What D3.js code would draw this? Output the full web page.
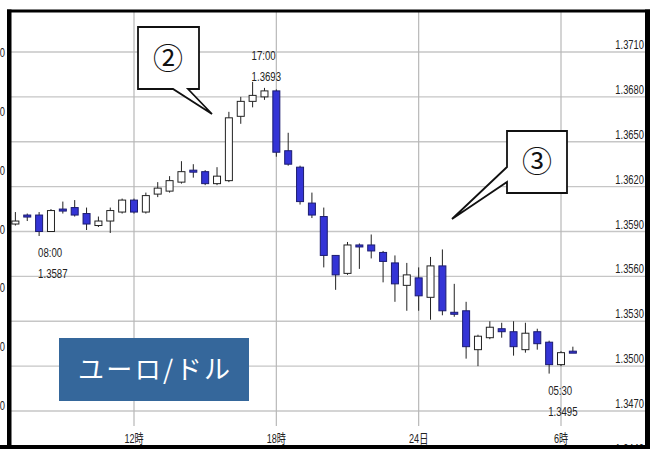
<!DOCTYPE html>
<html>
<head>
<meta charset="utf-8">
<script src="https://cdn.jsdelivr.net/npm/d3@7"></script>
<style>
body { margin: 0; background: #fff; }
svg { display: block; }
</style>
</head>
<body>
<svg id="chart" width="654" height="449"></svg>
<script>
// EUR/USD 30 minute candles, 23rd 07:00 -> 24th 06:30
var times  = ["07:00","07:30","08:00","08:30","09:00","09:30","10:00","10:30","11:00","11:30",
              "12:00","12:30","13:00","13:30","14:00","14:30","15:00","15:30","16:00","16:30",
              "17:00","17:30","18:00","18:30","19:00","19:30","20:00","20:30","21:00","21:30",
              "22:00","22:30","23:00","23:30","00:00","00:30","01:00","01:30","02:00","02:30",
              "03:00","03:30","04:00","04:30","05:00","05:30","06:00","06:30"];
var opens  = [1.3595,1.3601,1.3601,1.3590,1.3605,1.3606,1.3602,1.3594,1.3597,1.3603,
              1.3611,1.3603,1.3615,1.3617,1.3623,1.3631,1.3630,1.3622,1.3624,1.3667,
              1.3677,1.3680,1.3684,1.3644,1.3633,1.3609,1.3600,1.3574,1.3562,1.3581,
              1.3581,1.3576,1.3569,1.3554,1.3559,1.3546,1.3567,1.3536,1.3537,1.3511,
              1.3519,1.3525,1.3523,1.3511,1.3523,1.3516,1.3501,1.3510];
var highs  = [1.3603,1.3602,1.3603,1.3605,1.3610,1.3611,1.3606,1.3600,1.3606,1.3612,
              1.3612,1.3616,1.3623,1.3627,1.3637,1.3635,1.3631,1.3633,1.3670,1.3680,
              1.3690,1.3686,1.3685,1.3656,1.3634,1.3616,1.3606,1.3574,1.3583,1.3582,
              1.3588,1.3577,1.3574,1.3569,1.3566,1.3573,1.3578,1.3555,1.3543,1.3521,
              1.3530,1.3529,1.3530,1.3529,1.3525,1.3517,1.3510,1.3513];
var lows   = [1.3594,1.3597,1.3587,1.3590,1.3602,1.3600,1.3591,1.3593,1.3589,1.3602,
              1.3602,1.3602,1.3613,1.3616,1.3622,1.3626,1.3621,1.3621,1.3623,1.3662,
              1.3673,1.3678,1.3640,1.3634,1.3608,1.3599,1.3566,1.3551,1.3561,1.3565,
              1.3572,1.3556,1.3543,1.3537,1.3537,1.3531,1.3534,1.3533,1.3505,1.3500,
              1.3518,1.3519,1.3507,1.3509,1.3511,1.3495,1.3500,1.3509];
var closes = [1.3597,1.3600,1.3590,1.3604,1.3604,1.3601,1.3595,1.3597,1.3604,1.3611,
              1.3603,1.3614,1.3619,1.3624,1.3630,1.3630,1.3622,1.3627,1.3666,1.3677,
              1.3681,1.3684,1.3643,1.3635,1.3610,1.3601,1.3574,1.3561,1.3581,1.3580,
              1.3577,1.3570,1.3555,1.3561,1.3547,1.3567,1.3537,1.3535,1.3513,1.3520,
              1.3526,1.3523,1.3513,1.3522,1.3515,1.3501,1.3509,1.3509];

var yTicks = [1.3710,1.3680,1.3650,1.3620,1.3590,1.3560,1.3530,1.3500,1.3470,1.3440];
// cut-off labels of the chart underneath, on the left edge
var leftTicks = [1.3720,1.3680,1.3640,1.3600,1.3560,1.3520,1.3480];
var xTickTimes  = ["23 12:00","23 18:00","24 00:00","24 06:00"];
var xTickLabels = ["12時","18時","24日","6時"];

var noteTimes  = ["23 08:00","23 17:00","24 05:30"];
var noteLabels = ["08:00","17:00","05:30"];
var noteValues = ["1.3587","1.3693","1.3495"];
var noteSide   = ["below","above","below"];

var parseT = d3.timeParse("%d %H:%M");
var day = 23;
var candles = times.map(function(t, i) {
    if (i > 0 && t < times[i-1]) day++;
    return {date: parseT(day + " " + t), o: opens[i], h: highs[i], l: lows[i], c: closes[i]};
});

var svg = d3.select('#chart');

var x = d3.scaleTime()
    .domain([parseT("23 12:00"), parseT("24 06:00")])
    .range([134, 561]);
var y = d3.scaleLinear().domain([1.3710, 1.3470]).range([52, 411]);
var yLeft = d3.scaleLinear().domain([1.3720, 1.3480]).range([52, 405]);

var fontFam = '"Liberation Sans", Arial, "Noto Sans CJK JP", sans-serif';
var textCol = '#222';

// squeeze the text like the narrow font of the original
function narrow(sel, k) {
    sel.each(function() {
        var w = this.getComputedTextLength();
        d3.select(this).attr('textLength', w * k).attr('lengthAdjust', 'spacingAndGlyphs');
    });
}

// grid
svg.append('g').selectAll('line').data(yTicks).enter().append('line')
    .attr('x1', 11).attr('x2', 646)
    .attr('y1', function(d) { return y(d); })
    .attr('y2', function(d) { return y(d); })
    .attr('stroke', '#c6c6c6').attr('stroke-width', 1.3);

svg.append('g').selectAll('line').data(xTickTimes).enter().append('line')
    .attr('x1', function(d) { return x(parseT(d)); })
    .attr('x2', function(d) { return x(parseT(d)); })
    .attr('y1', 12).attr('y2', 426)
    .attr('stroke', '#b8b8b8').attr('stroke-width', 1.2);

// right axis labels sit on top of the grid lines
var rightLab = svg.append('g').selectAll('text').data(yTicks).enter().append('text')
    .attr('x', 644).attr('y', function(d) { return y(d) - 3; })
    .attr('text-anchor', 'end')
    .style('font-family', fontFam).style('font-size', '13px').attr('fill', textCol)
    .text(function(d) { return d3.format('.4f')(d); });
narrow(rightLab, 0.72);

var leftLab = svg.append('g').selectAll('text').data(leftTicks).enter().append('text')
    .attr('x', 5).attr('y', function(d) { return yLeft(d) + 5; })
    .attr('text-anchor', 'end')
    .style('font-family', fontFam).style('font-size', '13px').attr('fill', textCol)
    .text(function(d) { return d3.format('.4f')(d); });
narrow(leftLab, 0.72);

var xLab = svg.append('g').selectAll('text').data(xTickTimes).enter().append('text')
    .attr('x', function(d) { return x(parseT(d)); })
    .attr('y', 443)
    .attr('text-anchor', 'middle')
    .style('font-family', fontFam).style('font-size', '13px').attr('fill', textCol)
    .text(function(d, i) { return xTickLabels[i]; });
narrow(xLab, 0.7);

// candles
var bw = 7;
var cg = svg.append('g').selectAll('g').data(candles).enter().append('g');

cg.append('line')
    .attr('x1', function(d) { return x(d.date); })
    .attr('x2', function(d) { return x(d.date); })
    .attr('y1', function(d) { return y(d.h); })
    .attr('y2', function(d) { return y(d.l); })
    .attr('stroke', '#222').attr('stroke-width', 1);

cg.append('rect')
    .attr('x', function(d) { return x(d.date) - bw / 2; })
    .attr('y', function(d) { return y(Math.max(d.o, d.c)); })
    .attr('width', bw)
    .attr('height', function(d) { return Math.max(2, Math.abs(y(d.o) - y(d.c))); })
    .attr('fill', function(d) { return d.c >= d.o ? '#fff' : '#3434d6'; })
    .attr('stroke', function(d) { return d.c >= d.o ? '#222' : '#1c1c70'; })
    .attr('stroke-width', 1);

// high / low notes
var notes = svg.append('g').selectAll('g').data(noteTimes).enter().append('g');
notes.each(function(t, i) {
    var c = candles.find(function(d) { return +d.date === +parseT(t); });
    var g = d3.select(this);
    var cx = x(c.date);
    var y1, y2;
    if (noteSide[i] === 'below') { y1 = y(c.l) + 21; y2 = y(c.l) + 42; }
    else { y1 = y(c.h) - 22; y2 = y(c.h) - 1; }
    g.append('text').attr('x', cx - 1).attr('y', y1).text(noteLabels[i]);
    g.append('text').attr('x', cx - 1).attr('y', y2).text(noteValues[i]);
    g.selectAll('text').style('font-family', fontFam).style('font-size', '13px').attr('fill', textCol);
    narrow(g.selectAll('text'), 0.74);
});

// speech bubbles
svg.append('path')
    .attr('d', 'M138,27H199V89H188L212,114L173,89H138Z')
    .attr('fill', '#fff').attr('stroke', '#111').attr('stroke-width', 1.8).attr('stroke-linejoin', 'miter');
svg.append('text').attr('x', 168).attr('y', 69).attr('text-anchor', 'middle')
    .style('font-family', '"Noto Sans CJK JP", "DejaVu Sans", sans-serif').style('font-size', '30px')
    .attr('fill', '#111').text('②');

svg.append('path')
    .attr('d', 'M507,131H567V193H507V182L452,219L507,167Z')
    .attr('fill', '#fff').attr('stroke', '#111').attr('stroke-width', 1.8).attr('stroke-linejoin', 'miter');
svg.append('text').attr('x', 537).attr('y', 172).attr('text-anchor', 'middle')
    .style('font-family', '"Noto Sans CJK JP", "DejaVu Sans", sans-serif').style('font-size', '30px')
    .attr('fill', '#111').text('③');

// pair label
svg.append('rect').attr('x', 59).attr('y', 338).attr('width', 190).attr('height', 63).attr('fill', '#35679b');
svg.append('text').attr('x', 154).attr('y', 379).attr('text-anchor', 'middle')
    .attr('textLength', 152).attr('lengthAdjust', 'spacing')
    .style('font-family', '"Noto Sans CJK JP", sans-serif').style('font-size', '26px')
    .attr('fill', '#fff').text('ユーロ/ドル');

// frame
svg.append('rect').attr('x', 7).attr('y', 9.5).attr('width', 643).attr('height', 3).attr('fill', '#000');
svg.append('rect').attr('x', 7).attr('y', 9.5).attr('width', 4.5).attr('height', 440).attr('fill', '#000');
svg.append('rect').attr('x', 645).attr('y', 9.5).attr('width', 5).attr('height', 440).attr('fill', '#000');
svg.append('rect').attr('x', 0).attr('y', 445).attr('width', 650).attr('height', 4).attr('fill', '#000');
</script>
</body>
</html>
